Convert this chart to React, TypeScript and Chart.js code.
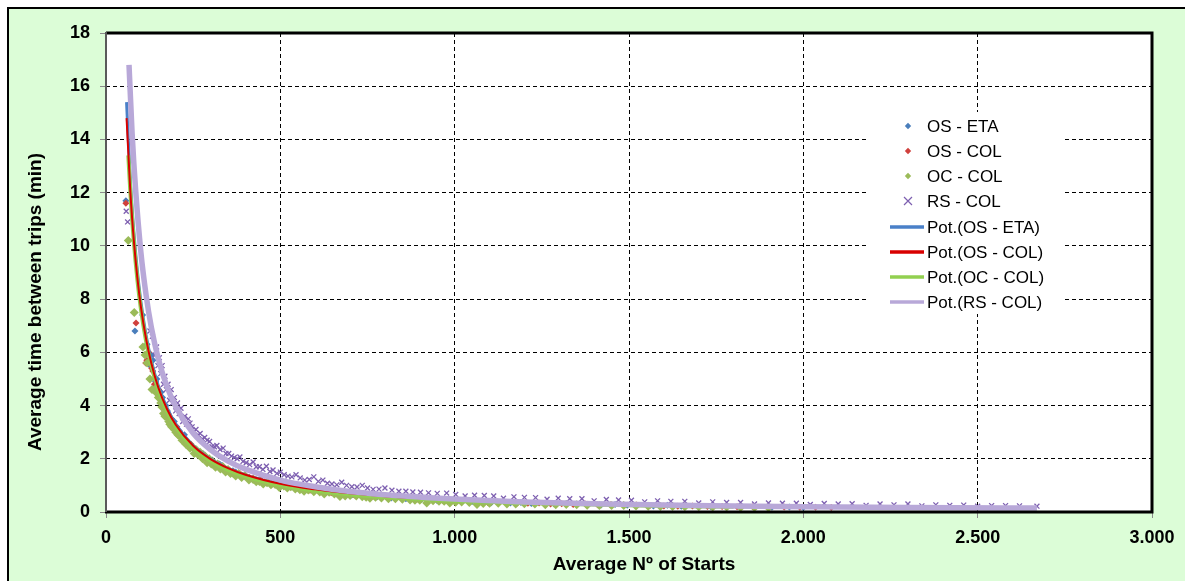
import React, { useEffect, useRef } from "react";
import { Chart, registerables } from "chart.js";
Chart.register(...registerables);

// ---------- Data ----------
const xTickStep = 500;
const yTickStep = 2;
const xMax = 3000;
const yMax = 18;

const seriesNames = ["OS - ETA", "OS - COL", "OC - COL", "RS - COL"];
const trendNames = ["Pot.(OS - ETA)", "Pot.(OS - COL)", "Pot.(OC - COL)", "Pot.(RS - COL)"];

const osEtaX = [57, 83, 105, 118, 127, 135, 142, 150, 158, 165, 172, 180, 188, 196, 205, 215, 225, 236, 248, 260, 272, 285, 298, 312, 326, 340, 356, 372, 390, 410, 430, 452, 475, 500, 525, 552, 580, 610, 640, 672, 705, 740, 778, 818, 860, 905, 950, 1000, 1050, 1105, 1160, 1220, 1285, 1350, 1420, 1495, 1570, 1650, 1735, 1820, 1910, 2000];
const osEtaY = [11.7, 6.8, 7.4, 6.3, 5.5, 5.7, 4.9, 4.6, 4.5, 4.0, 4.0, 3.6, 3.5, 3.4, 3.1, 2.9, 2.9, 2.6, 2.45, 2.35, 2.15, 2.1, 1.95, 1.85, 1.8, 1.65, 1.55, 1.5, 1.38, 1.3, 1.22, 1.12, 1.08, 0.98, 0.96, 0.88, 0.84, 0.78, 0.74, 0.70, 0.64, 0.62, 0.57, 0.53, 0.50, 0.47, 0.42, 0.41, 0.39, 0.35, 0.34, 0.32, 0.30, 0.28, 0.26, 0.25, 0.23, 0.22, 0.20, 0.19, 0.18, 0.17];
const osEtaX2 = [130, 146, 162, 176, 192, 210, 230, 254, 278, 305, 333, 364, 398, 440, 488, 538, 595, 655, 720, 795, 880, 975, 1080, 1190, 1320, 1460, 1610, 1780, 1960];
const osEtaY2 = [5.9, 5.0, 4.3, 3.8, 3.4, 3.05, 2.7, 2.4, 2.2, 1.95, 1.75, 1.55, 1.4, 1.22, 1.08, 0.95, 0.85, 0.75, 0.67, 0.6, 0.52, 0.46, 0.4, 0.36, 0.31, 0.28, 0.25, 0.22, 0.19];

const osColX = [57, 86, 114, 117, 122, 131, 139, 147, 155, 162, 170, 178, 186, 194, 203, 212, 222, 232, 244, 256, 268, 281, 294, 308, 322, 336, 351, 367, 384, 402, 422, 444, 466, 490, 515, 542, 570, 600, 630, 662, 695, 730, 768, 808, 850, 895, 940, 990, 1040, 1095, 1150, 1210, 1275, 1340, 1410, 1485, 1560, 1640, 1725, 1810, 1900, 1990, 2080];
const osColY = [11.6, 7.1, 5.6, 5.7, 6.0, 5.4, 4.8, 4.7, 4.3, 4.1, 3.9, 3.7, 3.5, 3.3, 3.2, 3.0, 2.8, 2.65, 2.55, 2.35, 2.25, 2.1, 2.0, 1.9, 1.8, 1.72, 1.6, 1.5, 1.45, 1.35, 1.28, 1.2, 1.12, 1.06, 1.0, 0.93, 0.86, 0.80, 0.76, 0.70, 0.68, 0.63, 0.60, 0.55, 0.52, 0.48, 0.45, 0.42, 0.38, 0.36, 0.33, 0.33, 0.30, 0.28, 0.27, 0.25, 0.24, 0.22, 0.21, 0.20, 0.19, 0.18, 0.17];
const osColX2 = [125, 134, 143, 151, 159, 166, 174, 182, 190, 199, 208, 217, 227, 238, 250, 262, 275, 288, 301, 315, 329, 344, 359, 375, 393, 412, 433, 455, 478, 502, 528, 556, 585, 615, 646, 678, 712, 748, 788, 829, 872, 917, 965, 1015, 1067, 1122, 1180, 1242, 1307, 1375, 1447, 1522, 1600, 1682, 1767, 1855, 1945, 2035];
const osColY2 = [5.6, 5.3, 4.7, 4.6, 4.1, 4.0, 3.7, 3.6, 3.3, 3.2, 2.95, 2.85, 2.65, 2.5, 2.4, 2.2, 2.15, 1.98, 1.92, 1.8, 1.7, 1.62, 1.5, 1.45, 1.35, 1.3, 1.2, 1.14, 1.05, 1.0, 0.94, 0.9, 0.82, 0.8, 0.72, 0.71, 0.64, 0.63, 0.57, 0.55, 0.5, 0.49, 0.44, 0.43, 0.39, 0.38, 0.34, 0.34, 0.31, 0.3, 0.27, 0.26, 0.23, 0.23, 0.21, 0.2, 0.19, 0.18];

const ocColX = [64, 81, 106, 112, 118, 126, 132, 139, 146, 153, 160, 169, 176, 183, 192, 200, 212, 223, 235, 247, 258, 270, 284, 296, 307, 320, 335, 350, 364, 380, 398, 422, 440, 462, 485, 510, 530, 556, 580, 613, 640, 671, 700, 735, 757, 790, 830, 872, 900, 920, 955, 986, 1020, 1064, 1100, 1150, 1200, 1260, 1320, 1380, 1450, 1520, 1590, 1660, 1740, 1820, 1900];
const ocColY = [10.2, 7.5, 6.2, 5.9, 5.6, 5.0, 4.6, 4.6, 4.5, 4.3, 3.95, 3.6, 3.55, 3.3, 3.2, 3.0, 2.85, 2.75, 2.6, 2.45, 2.35, 2.25, 2.1, 2.0, 1.88, 1.8, 1.7, 1.6, 1.47, 1.45, 1.36, 1.22, 1.15, 1.1, 1.03, 0.98, 0.95, 0.84, 0.83, 0.75, 0.74, 0.58, 0.62, 0.57, 0.52, 0.53, 0.50, 0.45, 0.44, 0.34, 0.40, 0.34, 0.38, 0.28, 0.33, 0.30, 0.31, 0.27, 0.28, 0.25, 0.24, 0.23, 0.21, 0.20, 0.19, 0.17, 0.16];
const ocColX2 = [143, 150, 157, 165, 173, 180, 188, 196, 206, 218, 229, 241, 253, 264, 277, 290, 302, 314, 328, 343, 357, 372, 389, 410, 431, 451, 473, 497, 520, 543, 568, 596, 626, 655, 686, 718, 746, 773, 810, 850, 886, 938, 970, 1003, 1042, 1082, 1125, 1175, 1230, 1290, 1350, 1415, 1485, 1555, 1625, 1700, 1780, 1860];
const ocColY2 = [4.5, 4.3, 4.1, 3.7, 3.6, 3.4, 3.2, 3.1, 2.9, 2.7, 2.55, 2.4, 2.2, 2.15, 2.0, 1.85, 1.8, 1.68, 1.62, 1.5, 1.45, 1.35, 1.3, 1.2, 1.14, 1.05, 1.02, 0.92, 0.9, 0.86, 0.78, 0.76, 0.68, 0.68, 0.6, 0.6, 0.55, 0.55, 0.5, 0.48, 0.44, 0.42, 0.4, 0.37, 0.36, 0.32, 0.33, 0.3, 0.3, 0.27, 0.27, 0.24, 0.24, 0.22, 0.21, 0.2, 0.19, 0.17];

const rsColX = [58, 62, 126, 133, 141, 149, 157, 165, 173, 182, 191, 200, 210, 220, 231, 241, 252, 264, 276, 290, 304, 318, 336, 352, 368, 384, 402, 422, 440, 460, 479, 500, 522, 545, 570, 596, 622, 648, 676, 705, 735, 766, 800, 840, 880, 925, 977, 1030, 1085, 1140, 1200, 1265, 1330, 1400, 1470, 1545, 1620, 1700, 1780, 1860, 1940, 2020, 2100, 2180, 2260, 2340, 2420, 2500, 2580, 2670];
const rsColY = [11.3, 10.9, 6.8, 6.6, 5.9, 5.5, 5.2, 4.8, 4.6, 4.2, 4.1, 3.8, 3.7, 3.4, 3.3, 3.34, 3.0, 2.9, 2.75, 2.7, 2.45, 2.5, 2.4, 2.2, 2.05, 2.07, 1.85, 1.88, 1.7, 1.72, 1.58, 1.5, 1.35, 1.4, 1.2, 1.32, 1.2, 1.05, 1.12, 0.95, 1.0, 0.85, 0.9, 0.78, 0.75, 0.72, 0.71, 0.6, 0.62, 0.52, 0.55, 0.48, 0.5, 0.42, 0.45, 0.38, 0.4, 0.34, 0.36, 0.3, 0.33, 0.28, 0.3, 0.25, 0.27, 0.23, 0.25, 0.22, 0.24, 0.22];
const rsColX2 = [145, 153, 161, 169, 178, 187, 196, 205, 215, 226, 236, 247, 258, 270, 283, 297, 311, 327, 344, 360, 376, 393, 412, 431, 450, 470, 490, 511, 533, 557, 583, 609, 635, 662, 690, 720, 750, 783, 820, 860, 902, 950, 1003, 1057, 1112, 1170, 1232, 1297, 1365, 1435, 1507, 1582, 1660, 1740, 1820, 1900, 1980, 2060, 2140, 2220, 2300, 2380, 2460, 2540, 2620];
const rsColY2 = [6.2, 5.8, 5.5, 5.1, 4.8, 4.6, 4.3, 4.1, 3.9, 3.6, 3.5, 3.2, 3.1, 2.95, 2.8, 2.65, 2.45, 2.35, 2.2, 2.1, 2.0, 1.9, 1.78, 1.7, 1.6, 1.52, 1.45, 1.4, 1.32, 1.28, 1.22, 1.15, 1.08, 1.02, 1.0, 0.94, 0.9, 0.86, 0.82, 0.78, 0.74, 0.7, 0.66, 0.63, 0.6, 0.57, 0.54, 0.52, 0.5, 0.47, 0.44, 0.42, 0.4, 0.38, 0.36, 0.34, 0.33, 0.32, 0.31, 0.3, 0.3, 0.27, 0.26, 0.24, 0.23];

const potOsEtaX = [59, 70, 80, 90, 100, 115, 130, 150, 175, 200, 250, 300, 350, 400, 500, 600, 700, 800, 1000, 1200, 1400, 1600, 1800, 2000];
const potOsEtaY = [15.4, 12.4, 10.5, 9.05, 7.91, 6.64, 5.69, 4.75, 3.91, 3.30, 2.49, 1.98, 1.63, 1.38, 1.04, 0.83, 0.68, 0.575, 0.434, 0.345, 0.284, 0.24, 0.207, 0.181];

const potOsColX = [59, 70, 80, 90, 100, 115, 130, 150, 175, 200, 250, 300, 350, 400, 500, 600, 700, 800, 1000, 1200, 1400, 1600, 1800, 2000];
const potOsColY = [14.8, 12.0, 10.18, 8.8, 7.72, 6.5, 5.59, 4.68, 3.87, 3.28, 2.49, 1.99, 1.65, 1.4, 1.06, 0.85, 0.7, 0.59, 0.45, 0.36, 0.30, 0.25, 0.22, 0.19];

const potOcColX = [64, 70, 80, 90, 100, 115, 130, 150, 175, 200, 250, 300, 350, 400, 500, 600, 700, 800, 1000, 1200, 1400, 1600, 1800];
const potOcColY = [13.4, 11.98, 10.13, 8.73, 7.64, 6.42, 5.5, 4.59, 3.78, 3.2, 2.42, 1.92, 1.58, 1.34, 1.01, 0.8, 0.66, 0.56, 0.42, 0.34, 0.28, 0.23, 0.2];

const potRsColX = [66, 75, 85, 100, 115, 130, 150, 175, 200, 250, 300, 350, 400, 500, 600, 700, 800, 1000, 1200, 1400, 1600, 1800, 2000, 2300, 2670];
const potRsColY = [16.8, 14.2, 12.1, 9.77, 8.15, 6.94, 5.76, 4.71, 3.96, 2.96, 2.34, 1.91, 1.61, 1.2, 0.95, 0.77, 0.65, 0.49, 0.38, 0.31, 0.26, 0.23, 0.2, 0.17, 0.15];

// ---------- Styles ----------
const FONT = '"Liberation Sans", Arial, sans-serif';
const pointColors = ["#4a7ebb", "#d0403c", "#9bbb59", "#7d5fb0"];
const lineColors = ["#4a80c8", "#d80000", "#92d050", "#b8a8d8"];

function fmtThousands(v: number): string {
  if (v >= 1000) {
    const t = Math.floor(v / 1000);
    const r = Math.round(v % 1000);
    return t + "." + String(r).padStart(3, "0");
  }
  return String(v);
}

const toPts = (xs: number[], ys: number[]) => xs.map((x, i) => ({ x, y: ys[i] }));

function drawMarker(ctx: CanvasRenderingContext2D, style: string, x: number, y: number, r: number, color: string) {
  ctx.save();
  if (style === "crossRot") {
    ctx.strokeStyle = color;
    ctx.lineWidth = 1.2;
    ctx.beginPath();
    ctx.moveTo(x - r, y - r);
    ctx.lineTo(x + r, y + r);
    ctx.moveTo(x - r, y + r);
    ctx.lineTo(x + r, y - r);
    ctx.stroke();
  } else {
    ctx.fillStyle = color;
    ctx.beginPath();
    ctx.moveTo(x, y - r);
    ctx.lineTo(x + r, y);
    ctx.lineTo(x, y + r);
    ctx.lineTo(x - r, y);
    ctx.closePath();
    ctx.fill();
  }
  ctx.restore();
}

const decorPlugin = {
  id: "decor",
  beforeDraw(chart: any) {
    const { ctx, chartArea: a } = chart;
    ctx.save();
    ctx.fillStyle = "#ffffff";
    ctx.fillRect(a.left, a.top, a.right - a.left, a.bottom - a.top);
    ctx.restore();
  },
  afterDatasetsDraw(chart: any) {
    const { ctx, chartArea: a } = chart;
    ctx.save();
    ctx.strokeStyle = "#000";
    ctx.lineWidth = 3;
    ctx.beginPath();
    ctx.moveTo(a.left, a.top);
    ctx.lineTo(a.right, a.top);
    ctx.lineTo(a.right, a.bottom);
    ctx.lineTo(a.left - 1, a.bottom);
    ctx.stroke();
    ctx.strokeStyle = "#5a5a5a";
    ctx.lineWidth = 2;
    ctx.beginPath();
    ctx.moveTo(a.left, a.top - 1);
    ctx.lineTo(a.left, a.bottom);
    ctx.stroke();

    const bx = 857, by = 103, bw = 196, bh = 202;
    ctx.fillStyle = "#ffffff";
    ctx.fillRect(bx, by, bw, bh);
    const rows = [117, 142, 167, 192, 218, 243, 268, 293];
    ctx.font = `17px ${FONT}`;
    ctx.textBaseline = "middle";
    ctx.textAlign = "left";
    const styles = ["rectRot", "rectRot", "rectRot", "crossRot"];
    for (let i = 0; i < 4; i++) {
      drawMarker(ctx, styles[i], 899, rows[i], styles[i] === "crossRot" ? 4 : 3.2, pointColors[i]);
      ctx.fillStyle = "#000";
      ctx.fillText(seriesNames[i], 918, rows[i] + 1);
    }
    for (let i = 0; i < 4; i++) {
      const y = rows[4 + i];
      ctx.strokeStyle = lineColors[i];
      ctx.lineWidth = 3.5;
      ctx.lineCap = "butt";
      ctx.beginPath();
      ctx.moveTo(881, y);
      ctx.lineTo(915, y);
      ctx.stroke();
      ctx.fillStyle = "#000";
      ctx.fillText(trendNames[i], 918, y + 1);
    }
    ctx.restore();
  },
  afterDraw(chart: any) {
    const { ctx } = chart;
    ctx.save();
    ctx.fillStyle = "#000";
    ctx.font = `bold 19px ${FONT}`;
    ctx.textAlign = "center";
    ctx.textBaseline = "middle";
    ctx.fillText("Average Nº of Starts", 635, 556);
    ctx.translate(27, 293);
    ctx.rotate(-Math.PI / 2);
    ctx.fillText("Average time between trips (min)", 0, 0);
    ctx.restore();
  },
};

export default function App() {
  const ref = useRef<HTMLCanvasElement | null>(null);
  useEffect(() => {
    if (!ref.current) return;
    const scatterDs = (label: string, xs: number[], ys: number[], i: number, style: string, r: number) => ({
      type: "scatter" as const,
      label,
      data: toPts(xs, ys),
      pointStyle: style,
      pointRadius: r,
      pointBackgroundColor: pointColors[i],
      pointBorderColor: pointColors[i],
      pointBorderWidth: style === "crossRot" ? 1.3 : 0,
      showLine: false,
      order: 10 - i,
    });
    const lineDs = (label: string, xs: number[], ys: number[], i: number, w: number, order: number) => ({
      type: "scatter" as const,
      label,
      data: toPts(xs, ys),
      showLine: true,
      borderColor: lineColors[i],
      backgroundColor: lineColors[i],
      borderWidth: w,
      pointRadius: 0,
      cubicInterpolationMode: "monotone" as const,
      order,
    });
    const chart = new Chart(ref.current, {
      type: "scatter",
      data: {
        datasets: [
          scatterDs(seriesNames[0], osEtaX.concat(osEtaX2), osEtaY.concat(osEtaY2), 0, "rectRot", 3.5),
          scatterDs(seriesNames[1], osColX.concat(osColX2), osColY.concat(osColY2), 1, "rectRot", 3.5),
          scatterDs(seriesNames[2], ocColX.concat(ocColX2), ocColY.concat(ocColY2), 2, "rectRot", 4.5),
          scatterDs(seriesNames[3], rsColX.concat(rsColX2), rsColY.concat(rsColY2), 3, "crossRot", 3.5),
          lineDs(trendNames[0], potOsEtaX, potOsEtaY, 0, 3, 4),
          lineDs(trendNames[1], potOsColX, potOsColY, 1, 2, 2),
          lineDs(trendNames[2], potOcColX, potOcColY, 2, 4, 3),
          lineDs(trendNames[3], potRsColX, potRsColY, 3, 5.5, 1),
        ] as any,
      },
      options: {
        animation: false,
        responsive: false,
        maintainAspectRatio: false,
        layout: { padding: { top: 24, right: 33, left: 0, bottom: 0 } },
        plugins: { legend: { display: false }, tooltip: { enabled: false } },
        scales: {
          x: {
            type: "linear",
            min: 0,
            max: xMax,
            afterFit: (s: any) => { s.height = 69; },
            ticks: {
              stepSize: xTickStep,
              padding: 9,
              color: "#000",
              autoSkip: false,
              maxRotation: 0,
              font: { family: FONT, size: 18, weight: "bold" },
              callback: (v: any) => fmtThousands(Number(v)),
            },
            grid: { color: "#000", lineWidth: 1, tickColor: "#8a8a8a", tickLength: 6, tickBorderDash: [] },
            border: { display: false, dash: [4, 3] },
          },
          y: {
            type: "linear",
            min: 0,
            max: yMax,
            afterFit: (s: any) => { s.width = 97; },
            ticks: {
              stepSize: yTickStep,
              padding: 10,
              color: "#000",
              font: { family: FONT, size: 18, weight: "bold" },
              callback: (v: any) => String(v),
            },
            grid: { color: "#000", lineWidth: 1, tickColor: "#8a8a8a", tickLength: 6, tickBorderDash: [] },
            border: { display: false, dash: [4, 3] },
          },
        },
      } as any,
      plugins: [decorPlugin],
    });
    return () => chart.destroy();
  }, []);

  return (
    <div
      style={{
        position: "fixed",
        left: 7,
        top: 7,
        width: 1200,
        height: 600,
        boxSizing: "border-box",
        background: "#dcfdd7",
        borderTop: "2px solid #000",
        borderLeft: "2px solid #000",
      }}
    >
      <canvas ref={ref} width={1176} height={572} style={{ display: "block", width: 1176, height: 572 }} />
    </div>
  );
}
